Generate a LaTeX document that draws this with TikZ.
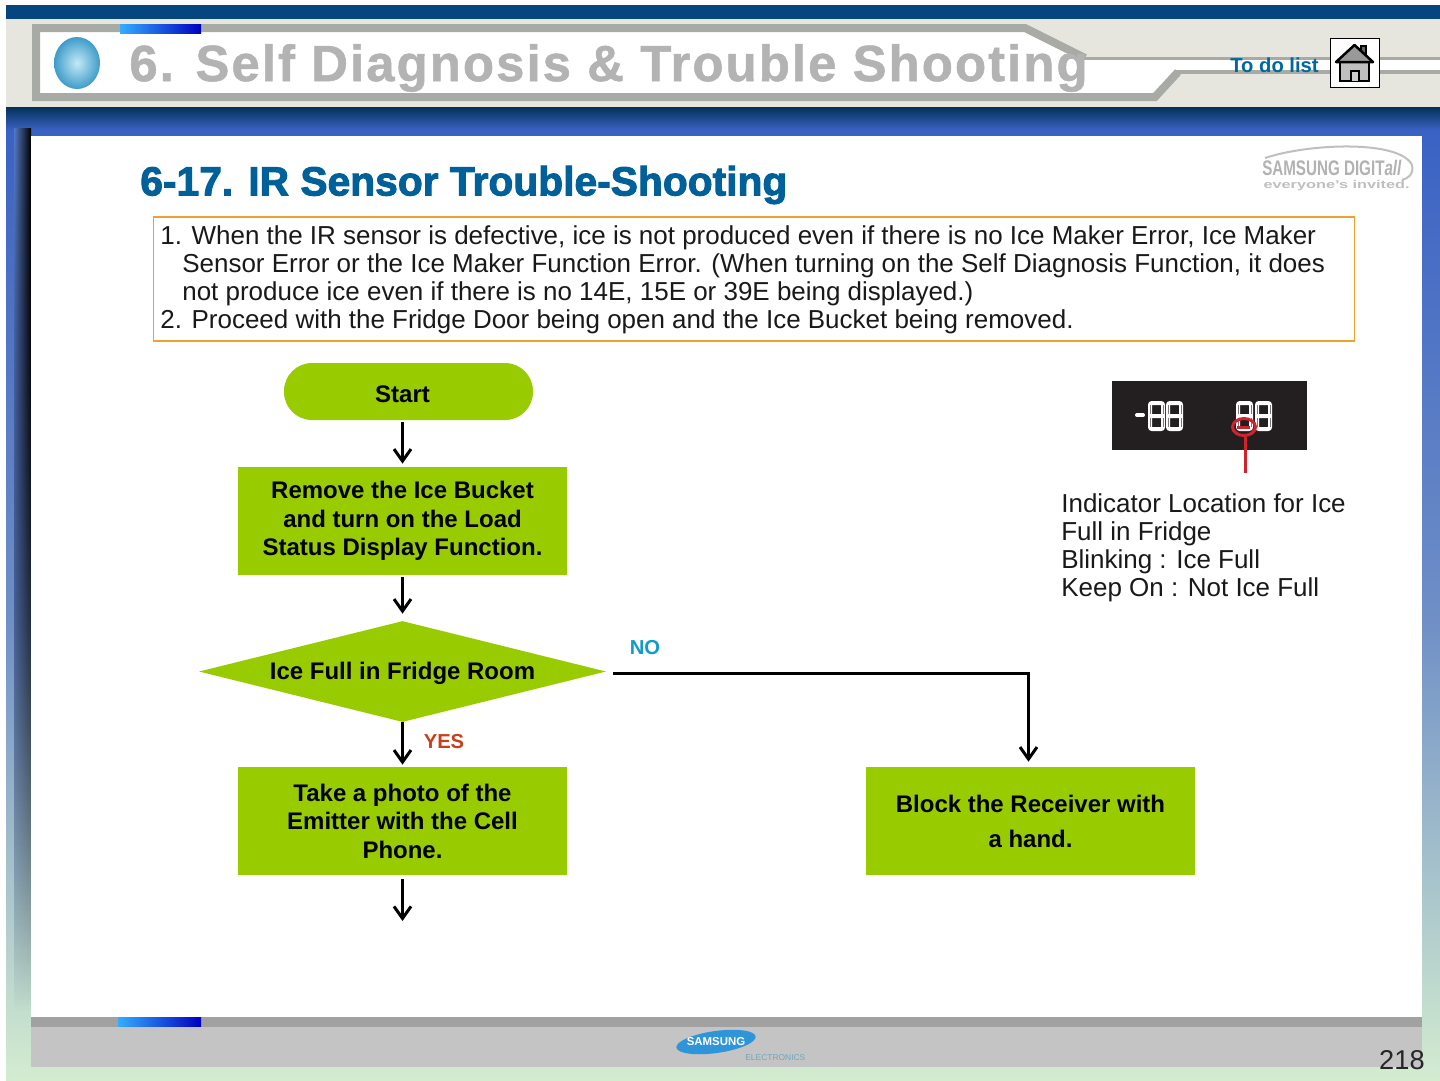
\documentclass[tikz,border=0pt]{standalone}
\usepackage{fontspec}
\setmainfont{Liberation Sans}
\newfontfamily\heavyfont{Liberation Sans}[BoldFeatures={FakeBold=2.4}]
\newfontfamily\titlefont{Liberation Sans}[LetterSpace=4,BoldFeatures={FakeBold=1}]
\usetikzlibrary{arrows.meta,positioning,shapes.geometric,fadings}
\newlength\unitpx
\setlength\unitpx{0.02cm}
\definecolor{flowgreen}{HTML}{99CC00}
\definecolor{navyband}{HTML}{05467F}
\definecolor{headband}{HTML}{E6E6DF}
\definecolor{headline}{HTML}{A8AAA6}
\definecolor{titlegrey}{HTML}{B3B3B3}
\definecolor{sectblue}{HTML}{00609A}
\definecolor{skyblue}{HTML}{3A62C4}
\definecolor{midblue}{HTML}{6F8FC6}
\definecolor{palegreen}{HTML}{D3ECD0}
\definecolor{notebrd}{HTML}{F0A030}
\definecolor{nocyan}{HTML}{0F9BCB}
\definecolor{yesred}{HTML}{C8401A}
\definecolor{lampred}{HTML}{D2232A}
\definecolor{panelblack}{HTML}{231F20}
\definecolor{bulbrim}{HTML}{3F9CC9}
\definecolor{bulbcore}{HTML}{C4E9F7}
\tikzfading[name=shadowfade,top color=transparent!0,bottom color=transparent!100]
\begin{document}
\begin{tikzpicture}[x=0.02cm,y=-0.02cm,>={Straight Barb[length=0.24cm,width=0.34cm]},
  flowbox/.style={fill=flowgreen,font=\fontsize{13.65}{16.2}\selectfont\bfseries,align=center,minimum width=329\unitpx,minimum height=108\unitpx,inner sep=0pt,execute at begin node={\rule{0pt}{12.5pt}}},
  flowline/.style={line width=3\unitpx,->},
  bodytext/.style={font=\fontsize{14.78}{15.95}\selectfont,align=left,inner sep=0pt,text=black!90},
  chip/.style={left color=cyan!60!blue!80,right color=blue!75!black}]
\useasboundingbox (0,0) rectangle (1440,1080);
% page ground
\fill[white] (0,0) rectangle (1440,1080);
\fill[navyband] (6,5) rectangle (1440,19);
\fill[headband] (6,19) rectangle (1440,107);
\fill[top color=navyband!70!black,bottom color=skyblue] (6,107) rectangle (1440,130);
\fill[top color=skyblue,bottom color=midblue] (6,130) rectangle (1440,620);
\fill[top color=midblue,bottom color=palegreen] (6,620) rectangle (1440,1080);
\fill[left color=skyblue!50!midblue,right color=black,path fading=shadowfade] (14,128) rectangle (31,1010);
% head frame
\fill[white] (33,29) -- (1025,29) -- (1085,58) -- (1440,58) -- (1440,72) -- (1178,72) -- (1155,97) -- (33,97) -- cycle;
\draw[headline,line width=8\unitpx,line join=miter] (1085,58) -- (1025,28) -- (36,28) -- (36,97) -- (1155,97) -- (1178,72);
\draw[headline,line width=3\unitpx] (1083,58) -- (1440,58);
\draw[headline,line width=4\unitpx] (1176,72) -- (1440,72);
\fill[chip] (120,24) rectangle (201,33);
\node[ellipse,minimum width=46\unitpx,minimum height=52\unitpx,inner sep=0pt,inner color=bulbcore,outer color=bulbrim] (bulb) at (77,63) {};
\node[anchor=west,inner sep=0pt,text=titlegrey,font=\fontsize{29}{32}\titlefont\bfseries] (headtitle) at (129,68) {6. Self Diagnosis \& Trouble Shooting};
\node[anchor=west,inner sep=0pt,text=sectblue!95!cyan,font=\fontsize{11.5}{14}\selectfont\bfseries] (todo) at (1230,65) {To do list};
% home button
\node[draw=black,fill=white,minimum width=49\unitpx,minimum height=49\unitpx,inner sep=0pt,line width=1\unitpx] (homebtn) at (1354.5,62.5) {};
\fill[black!60,draw=black,line width=1.5\unitpx] (1361,46) rectangle (1366,56);
\fill[black!25,draw=black,line width=2\unitpx] (1340,62) rectangle (1369,81);
\fill[black!40,draw=black,line width=2.5\unitpx,line join=round] (1354.5,45) -- (1373,62) -- (1336,62) -- cycle;
\draw[black,line width=1.5\unitpx,fill=white!80!black] (1351,81) -- (1351,71) -- (1359,71) -- (1359,81);
% panel
\fill[white] (31,136) rectangle (1422,1017);
\fill[black!37] (31,1017) rectangle (1422,1027);
\fill[black!23] (31,1027) rectangle (1422,1067);
\fill[chip] (118,1017) rectangle (201,1026);
% makers' marks
\draw[black!25,line width=2\unitpx] (1265,158) .. controls (1310,143) and (1400,140) .. (1412,165) .. controls (1414,175) and (1408,178) .. (1402,180);
\node[anchor=west,inner sep=0pt,text=black!30,xscale=0.72,transform shape,font=\fontsize{12}{13}\selectfont\bfseries] (digitall) at (1262,168) {SAMSUNG DIGIT\textit{all}};
\node[anchor=west,inner sep=0pt,text=black!25,xscale=1.45,transform shape,font=\fontsize{6.4}{7}\selectfont\bfseries] (invited) at (1263,186) {everyone's invited.};
\node[ellipse,fill=cyan!70!blue!85,minimum width=80\unitpx,minimum height=22\unitpx,inner sep=0pt,rotate=8] (maker) at (716,1042) {};
\node[text=white,inner sep=0pt,font=\fontsize{6.5}{8}\selectfont\bfseries] (makername) at (716,1042) {SAMSUNG};
\node[anchor=west,inner sep=0pt,text=cyan!60!black!70,font=\fontsize{4.8}{6}\selectfont] (makersub) at (745,1058) {ELECTRONICS};
\node[anchor=east,inner sep=0pt,text=black!85,font=\fontsize{15.5}{18}\selectfont] (pagenum) at (1425,1060) {218};
% heading and note
\node[anchor=west,inner sep=0pt,text=sectblue,font=\fontsize{23.2}{26}\heavyfont\bfseries] (section) at (140,185) {6-17. IR Sensor Trouble-Shooting};
\node[draw=notebrd,line width=1.6\unitpx,minimum width=1201\unitpx,minimum height=124\unitpx,inner sep=0pt] (notebox) at (754,279) {};
\node[bodytext,anchor=north west] (notetext) at (160,225) {1. When the IR sensor is defective, ice is not produced even if there is no Ice Maker Error, Ice Maker\\
\hspace*{22\unitpx}Sensor Error or the Ice Maker Function Error. (When turning on the Self Diagnosis Function, it does\\
\hspace*{22\unitpx}not produce ice even if there is no 14E, 15E or 39E being displayed.)\\
2. Proceed with the Fridge Door being open and the Ice Bucket being removed.};
% flow
\node[flowbox,rounded corners=28\unitpx,minimum width=249\unitpx,minimum height=57\unitpx] (start) at (408.5,391.5) {Start\hspace*{12\unitpx}};
\node[flowbox] (remove) at (402.5,521) {Remove the Ice Bucket\\and turn on the Load\\Status Display Function.};
\node[flowbox,diamond,aspect=4,minimum width=407\unitpx,minimum height=101\unitpx] (fullcheck) at (402.5,671.5) {Ice Full in Fridge Room};
\node[flowbox] (photo) at (402.5,821) {Take a photo of the\\Emitter with the Cell\\Phone.};
\node[flowbox,font=\fontsize{13.65}{20}\selectfont\bfseries] (block) at (1030.5,821) {Block the Receiver with\\a hand.};
\coordinate (photoout) at (402.5,921);
\coordinate (startfoot) at (402.5,420);
\draw[flowline,shorten <=2\unitpx,shorten >=3\unitpx] (startfoot) -- (remove.north);
\draw[flowline,shorten <=2\unitpx,shorten >=7\unitpx] (remove.south) -- (fullcheck.north);
\draw[flowline,shorten >=2\unitpx] (fullcheck.south) -- (photo.north);
\draw[flowline,shorten <=4\unitpx] (photo.south) -- (photoout);
\draw[flowline,line join=miter,shorten <=7\unitpx,shorten >=5\unitpx] ([yshift=-1.5\unitpx]fullcheck.east) -| ([xshift=-2\unitpx]block.north);
\node[inner sep=0pt,text=nocyan,font=\fontsize{11.5}{13}\selectfont\bfseries] (nolabel) at (645,648) {NO};
\node[inner sep=0pt,text=yesred,font=\fontsize{11.5}{13}\selectfont\bfseries] (yeslabel) at (444,742) {YES};
% display
\node[fill=panelblack,minimum width=195\unitpx,minimum height=69\unitpx,inner sep=0pt] (display) at (1209.5,415.5) {};
\draw[white,line width=4\unitpx,line cap=round] (1137,415) -- (1143,415);
\foreach \xx in {1150,1168,1238,1257}{
  \draw[white,line width=4\unitpx,rounded corners=2\unitpx] (\xx,403) rectangle (\xx+13,429) (\xx,416) -- (\xx+13,416);
  \draw[panelblack!60,line width=1\unitpx] (\xx,405) -- (\xx,414) (\xx+13,405) -- (\xx+13,414) (\xx,418) -- (\xx,427) (\xx+13,418) -- (\xx+13,427);
}
\node[ellipse,draw=lampred,line width=3\unitpx,minimum width=23\unitpx,minimum height=17\unitpx,inner sep=0pt] (lamp) at (1244,427) {};
\coordinate (lampfoot) at (1245,473);
\draw[lampred,line width=3\unitpx] (lamp.south -| lampfoot) -- (lampfoot);
\fill[lampred] (1237,426) rectangle (1250,429);
\node[bodytext,anchor=north west] (lampnote) at (1061,493) {Indicator Location for Ice\\Full in Fridge\\Blinking : Ice Full\\Keep On : Not Ice Full};
\end{tikzpicture}
\end{document}
